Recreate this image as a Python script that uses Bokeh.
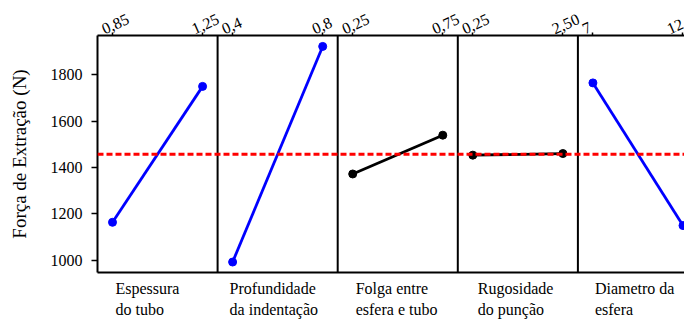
from bokeh.plotting import figure
from bokeh.models import Range1d, LinearAxis, FixedTicker, Span
from bokeh.embed import file_html
from bokeh.resources import INLINE

# ---- data ----
factors = ["Espessura\ndo tubo", "Profundidade\nda indentação",
           "Folga entre\nesfera e tubo", "Rugosidade\ndo punção",
           "Diametro da\nesfera"]
low_levels = ["0,85", "0,4", "0,25", "0,25", "7"]
high_levels = ["1,25", "0,8", "0,75", "2,50", "12"]
low_means = [1164, 993, 1372, 1453, 1764]
high_means = [1749, 1921, 1539, 1460, 1150]
significant = [True, True, False, False, True]
grand_mean = 1457
y_ticks = [1000, 1200, 1400, 1600, 1800]

# ---- layout / style ----
FONT = "Liberation Serif"
FS = 16
LOW_POS, HIGH_POS = 0.125, 0.875
PANEL_PX = 120.1
NAME_OFFSET_PX = [18, 12, 18, 20, 17]   # left indent of the factor names

# approximate Liberation Serif advance widths (per 1000 em) for centring
CW = {" ": 250, "a": 444, "b": 500, "d": 500, "e": 444, "f": 333, "g": 500,
      "i": 278, "l": 278, "m": 778, "n": 500, "o": 500, "p": 500, "r": 333,
      "s": 389, "t": 278, "u": 500, "ç": 444, "ã": 444, "D": 722, "E": 611,
      "F": 556, "P": 556, "R": 667}


def text_w(s):
    return sum(CW.get(c, 500) for c in s) * FS / 1000


p = figure(width=684, height=320, output_backend="svg", toolbar_location=None,
           x_range=Range1d(0, (684 - 97) / PANEL_PX), y_range=Range1d(948, 1968),
           min_border_left=97, min_border_right=0, min_border_top=35,
           min_border_bottom=48, x_axis_location=None, y_axis_location=None)
p.outline_line_color = None
p.xgrid.visible = False
p.ygrid.visible = False
p.background_fill_color = "white"
p.border_fill_color = "white"


def bare(ax):
    ax.major_tick_out = 0
    ax.major_tick_in = 0
    ax.minor_tick_out = 0
    ax.minor_tick_in = 0
    ax.major_label_text_font = FONT
    ax.major_label_text_font_size = f"{FS}px"
    ax.major_label_text_color = "black"


# left axis
yax = LinearAxis(ticker=FixedTicker(ticks=y_ticks),
                 axis_label="Força de Extração (N)")
bare(yax)
yax.axis_line_width = 2
yax.major_tick_out = 6
yax.major_tick_line_width = 1.5
yax.major_label_standoff = 9
yax.axis_label_text_font = FONT
yax.axis_label_text_font_size = "19px"
yax.axis_label_text_font_style = "normal"
yax.axis_label_text_color = "black"
yax.axis_label_standoff = 18
p.add_layout(yax, "left")

# top axis: tick marks at factor levels
tick_x = []
tick_lbl = []
for i in range(len(factors)):
    tick_x += [i + LOW_POS, i + HIGH_POS]
    tick_lbl += [low_levels[i], high_levels[i]]

tax = LinearAxis(ticker=FixedTicker(ticks=tick_x))
bare(tax)
tax.axis_line_width = 2
tax.major_tick_out = 3
tax.major_tick_line_width = 1.5
tax.major_label_standoff = 0
tax.major_label_text_font_size = "0px"
tax.major_label_text_alpha = 0
p.add_layout(tax, "above")

# top labels: rotated level values (text starts a little left of its tick)
shift = 10 / PANEL_PX
lbl_x = [x - shift for x in tick_x]
lax = LinearAxis(ticker=FixedTicker(ticks=lbl_x),
                 major_label_overrides={x: t for x, t in zip(lbl_x, tick_lbl)})
bare(lax)
lax.axis_line_color = None
lax.major_label_standoff = 3
lax.major_label_orientation = 0.42
p.add_layout(lax, "above")

# bottom: two rows of factor names, left-aligned within each panel
line1 = [f.split("\n")[0] for f in factors]
line2 = [f.split("\n")[1] for f in factors]
x1 = [i + (NAME_OFFSET_PX[i] + text_w(line1[i]) / 2) / PANEL_PX
      for i in range(len(factors))]
x2 = [i + (NAME_OFFSET_PX[i] + text_w(line2[i]) / 2) / PANEL_PX
      for i in range(len(factors))]

bax1 = LinearAxis(ticker=FixedTicker(ticks=x1),
                  major_label_overrides={x: t for x, t in zip(x1, line1)})
bare(bax1)
bax1.axis_line_width = 2
bax1.major_label_standoff = 7
bax1.major_label_orientation = "horizontal"
p.add_layout(bax1, "below")

bax2 = LinearAxis(ticker=FixedTicker(ticks=x2),
                  major_label_overrides={x: t for x, t in zip(x2, line2)})
bare(bax2)
bax2.axis_line_color = None
bax2.major_label_standoff = 1
bax2.major_label_orientation = "horizontal"
p.add_layout(bax2, "below")

# panel dividers
for i in range(1, len(factors)):
    p.add_layout(Span(location=i, dimension="height", line_color="black",
                      line_width=2))

# grand mean
p.add_layout(Span(location=grand_mean, dimension="width", line_color="#ff0000",
                  line_width=3, line_dash="6 3"))

# main effects lines
for i in range(len(factors)):
    c = "#0000ff" if significant[i] else "black"
    xs = [i + LOW_POS, i + HIGH_POS]
    ys = [low_means[i], high_means[i]]
    p.line(xs, ys, line_color=c, line_width=2.8)
    p.scatter(xs, ys, size=8, fill_color=c, line_color=c, marker="circle")

open("out.html", "w").write(file_html(p, INLINE))
